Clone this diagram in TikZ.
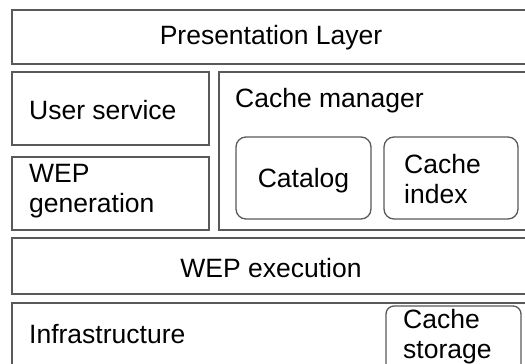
\documentclass[tikz,border=0pt]{standalone}
\usepackage{fontspec}
\setmainfont{Liberation Sans}
\begin{document}
\begin{tikzpicture}[x=1pt,y=-1pt,
  box/.style={draw=black!65,line width=1.3pt,anchor=north west,inner sep=0pt,outer sep=0pt},
  rbox/.style={box,rounded corners=10pt},
  lbl/.style={inner sep=0pt,font=\fontsize{26.5}{30}\selectfont,text=black},
  lblL/.style={lbl,anchor=west,align=left}]
\useasboundingbox (0,0) rectangle (525,364);
% boxes
\node[box,minimum width=530pt,minimum height=54pt] (pres) at (12,10) {};
\node[box,minimum width=197pt,minimum height=73pt] (user) at (12,72) {};
\node[box,minimum width=320pt,minimum height=158pt] (cm) at (219,72) {};
\node[box,minimum width=197pt,minimum height=73pt] (wepg) at (12,157) {};
\node[rbox,minimum width=135pt,minimum height=82pt] (cat) at (236,137) {};
\node[rbox,minimum width=134pt,minimum height=82pt] (cidx) at (384,137) {};
\node[box,minimum width=530pt,minimum height=56pt] (wepe) at (12,238) {};
\node[box,minimum width=530pt,minimum height=80pt] (infra) at (12,303) {};
\node[rbox,rounded corners=8pt,minimum width=135pt,minimum height=70pt] (cst) at (386,306) {};
% labels
\node[lbl] (presT) at (271,38) {Presentation Layer};
\node[lblL] (userT) at (29,110) {User service};
\node[lblL] (cmT) at (235,101) {Cache manager};
\node[lblL] (wepgT) at (29,191) {WEP\\generation};
\node[lbl] (catT) at (303.5,181) {Catalog};
\node[lblL] (cidxT) at (404,179) {Cache\\index};
\node[lbl] (wepeT) at (271,268) {WEP execution};
\node[lblL] (infraT) at (29,334) {Infrastructure};
\node[lblL] (cstT) at (403,337) {Cache\\storage};
\end{tikzpicture}
\end{document}
